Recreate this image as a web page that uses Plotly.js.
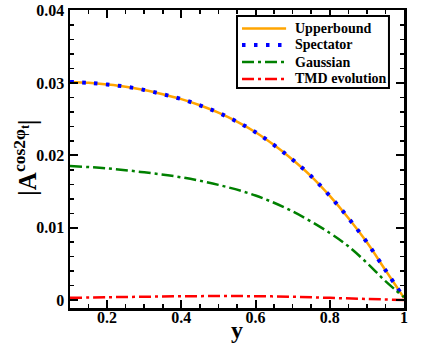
<!DOCTYPE html>
<html>
<head>
<meta charset="utf-8">
<script src="https://cdn.plot.ly/plotly-3.0.1.min.js"></script>
<style>
  html, body { margin: 0; padding: 0; background: #fff; }
  #plotDiv { width: 436px; height: 354px; }
</style>
</head>
<body>
<div id="plotDiv"></div>
<script>
// values
const yUpper = [0.1, 0.15, 0.2, 0.25, 0.3, 0.35, 0.4, 0.45, 0.5, 0.55, 0.6, 0.65, 0.7, 0.75, 0.8, 0.85, 0.9, 0.95, 0.98, 1.0];
const upperbound = [0.03016, 0.03003, 0.0298, 0.0295, 0.02905, 0.02846, 0.02778, 0.02693, 0.0259, 0.02466, 0.0232, 0.02142, 0.0194, 0.01711, 0.0144, 0.01135, 0.00798, 0.00413, 0.00183, 0.0003];
const spectator = [0.03016, 0.03003, 0.0298, 0.0295, 0.02905, 0.02846, 0.02778, 0.02693, 0.0259, 0.02466, 0.0232, 0.02142, 0.0194, 0.01711, 0.0144, 0.01135, 0.00798, 0.00413, 0.00183, 0.0003];

const yGauss = [0.1, 0.2, 0.3, 0.4, 0.5, 0.6, 0.7, 0.8, 0.85, 0.9, 0.95, 1.0];
const gaussian = [0.01853, 0.01821, 0.01766, 0.01697, 0.01592, 0.01445, 0.01225, 0.00927, 0.00743, 0.00514, 0.00261, 0.0004];

const yTmd = [0.1, 0.2, 0.3, 0.4, 0.5, 0.6, 0.7, 0.8, 0.9, 1.0];
const tmdEvolution = [0.0003, 0.00039, 0.00046, 0.00052, 0.00055, 0.00053, 0.00046, 0.0003, 0.00015, 0.0];

const seriesNames = ["Upperbound", "Spectator", "Gaussian", "TMD evolution"];

const xTicks = [0.2, 0.4, 0.6, 0.8, 1.0];
const xTickText = ["0.2", "0.4", "0.6", "0.8", "1"];
const yTicks = [0, 0.01, 0.02, 0.03, 0.04];
const yTickText = ["0", "0.01", "0.02", "0.03", "0.04"];

const serif = '"Liberation Serif", "Times New Roman", serif';

const traces = [
  {
    x: yUpper, y: upperbound, type: "scatter", mode: "lines", name: seriesNames[0],
    line: { color: "#ffa500", width: 2.5, shape: "spline" },
  },
  {
    x: yUpper, y: spectator, type: "scatter", mode: "lines", name: seriesNames[1],
    line: { color: "#0000ff", width: 4, dash: "3.5px,8.5px", shape: "spline" },
  },
  {
    x: yGauss, y: gaussian, type: "scatter", mode: "lines", name: seriesNames[2],
    line: { color: "#008000", width: 2.5, dash: "12px,4px,3px,4px", shape: "spline" },
  },
  {
    x: yTmd, y: tmdEvolution, type: "scatter", mode: "lines", name: seriesNames[3],
    line: { color: "#ff0000", width: 2.5, dash: "12px,4px,3px,4px", shape: "spline" },
  },
];

// hand-drawn legend box (plotly's own legend rows are too tall)
const legendRows = [0.938, 0.8826, 0.8255, 0.7685];
const shapes = [
  {
    type: "rect", xref: "paper", yref: "paper",
    x0: 0.5, x1: 0.955, y0: 0.738, y1: 0.98,
    line: { color: "black", width: 2 }, fillcolor: "white",
  },
];
const annotations = [
  {
    text: "y", xref: "paper", yref: "paper", x: 0.5, y: -0.074,
    xanchor: "center", yanchor: "middle", showarrow: false,
    font: { family: serif, size: 24, color: "black", weight: "bold" },
  },
  {
    text: "|A<sup>cos2φ<sub>t</sub></sup>|", textangle: -90,
    xref: "paper", yref: "paper", x: -0.133, y: 0.503,
    xanchor: "center", yanchor: "middle", showarrow: false,
    font: { family: serif, size: 25, color: "black", weight: "bold" },
  },
];
traces.forEach((t, i) => {
  shapes.push({
    type: "line", xref: "paper", yref: "paper",
    x0: 0.515, x1: 0.647, y0: legendRows[i], y1: legendRows[i],
    line: { color: t.line.color, width: t.line.width, dash: t.line.dash || "solid" },
  });
  annotations.push({
    text: t.name, xref: "paper", yref: "paper", x: 0.668, y: legendRows[i],
    xanchor: "left", yanchor: "middle", showarrow: false,
    font: { family: serif, size: 14, color: "black", weight: "bold" },
  });
});

const axisCommon = {
  showline: true,
  linecolor: "black",
  linewidth: 2.5,
  mirror: "allticks",
  ticks: "inside",
  ticklen: 8,
  tickwidth: 2,
  tickcolor: "black",
  showgrid: false,
  zeroline: false,
  tickfont: { family: serif, size: 16, color: "black", weight: "bold" },
};

const layout = {
  width: 436,
  height: 354,
  margin: { l: 70, r: 32, t: 10, b: 46 },
  paper_bgcolor: "white",
  plot_bgcolor: "white",
  showlegend: false,
  xaxis: Object.assign({}, axisCommon, {
    range: [0.1, 1.0],
    tickvals: xTicks,
    ticktext: xTickText,
    ticklabelstandoff: -7,
    minor: { dtick: 0.05, tick0: 0, ticks: "inside", ticklen: 4, tickwidth: 1.5, tickcolor: "black" },
  }),
  yaxis: Object.assign({}, axisCommon, {
    range: [-0.0011, 0.0401],
    tickvals: yTicks,
    ticktext: yTickText,
    minor: { dtick: 0.002, tick0: 0, ticks: "inside", ticklen: 4, tickwidth: 1.5, tickcolor: "black" },
  }),
  shapes: shapes,
  annotations: annotations,
};

Plotly.newPlot("plotDiv", traces, layout, { displayModeBar: false, staticPlot: true });
</script>
</body>
</html>
